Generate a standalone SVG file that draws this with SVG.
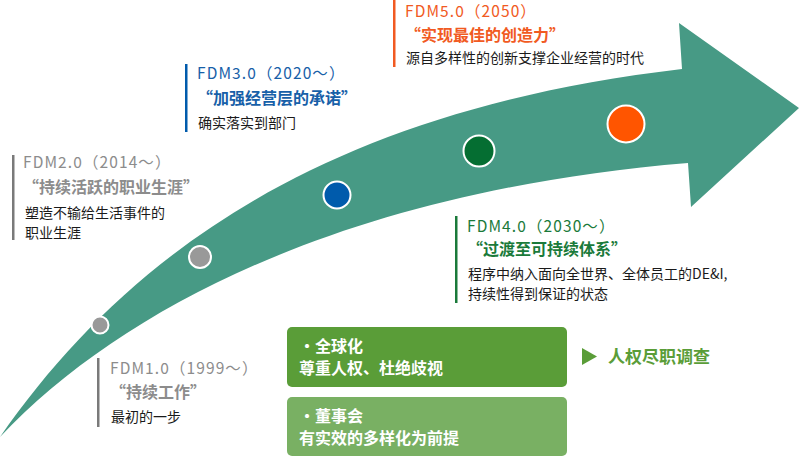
<svg xmlns="http://www.w3.org/2000/svg" width="800" height="457" viewBox="0 0 800 457">
<style>
text{font-family:"Noto Sans CJK SC","Noto Sans",sans-serif;}
.ttl{font-size:15.5px;letter-spacing:1.1px;}
.quo{font-size:16px;font-weight:bold;}
.dsc{font-size:14px;fill:#1a1a1a;}
.box{font-size:16px;font-weight:bold;fill:#ffffff;}
.dot{stroke:#ffffff;stroke-width:2;}
</style>
<rect width="800" height="457" fill="#ffffff"/>
<g id="arrow">
<path d="M0,437 C130,250 330,110 682,69 L679,23 L799,108 L691,207 L688,163 C360,190 130,300 0,437 Z" fill="#479A85"/>
</g>
<g id="milestones">
<circle class="dot" cx="100" cy="325" r="8.5" fill="#999999"/>
<circle class="dot" cx="200" cy="257" r="11" fill="#999999"/>
<circle class="dot" cx="337" cy="195" r="13.5" fill="#005BAC"/>
<circle class="dot" cx="479" cy="151" r="15.5" fill="#056E32"/>
<circle class="dot" cx="626" cy="124" r="18.5" fill="#FF5500"/>
</g>
<g id="fdm1">
<rect x="97" y="358" width="2.5" height="69" fill="#7A7A7A"/>
<text class="ttl" x="110" y="374" fill="#8C8C8C">FDM1.0（1999～）</text>
<text class="quo" x="110" y="398" fill="#8C8C8C">“持续工作”</text>
<text class="dsc" x="111" y="422">最初的一步</text>
</g>
<g id="fdm2">
<rect x="12" y="155" width="2.5" height="85" fill="#7A7A7A"/>
<text class="ttl" x="23" y="168" fill="#8C8C8C">FDM2.0（2014～）</text>
<text class="quo" x="23" y="193" fill="#8C8C8C">“持续活跃的职业生涯”</text>
<text class="dsc" x="25" y="218">塑造不输给生活事件的</text>
<text class="dsc" x="25" y="238">职业生涯</text>
</g>
<g id="fdm3">
<rect x="185" y="64" width="2.5" height="68" fill="#005BAC"/>
<text class="ttl" x="197" y="78.5" fill="#1760A8">FDM3.0（2020～）</text>
<text class="quo" x="197" y="104" fill="#1760A8">“加强经营层的承诺”</text>
<text class="dsc" x="198" y="128">确实落实到部门</text>
</g>
<g id="fdm4">
<rect x="455" y="216" width="2.5" height="87" fill="#1A7A3A"/>
<text class="ttl" x="467" y="231.5" fill="#1A7A3A">FDM4.0（2030～）</text>
<text class="quo" x="467" y="255" fill="#1A7A3A">“过渡至可持续体系”</text>
<text class="dsc" x="468" y="279">程序中纳入面向全世界、全体员工的DE&amp;I,</text>
<text class="dsc" x="468" y="299">持续性得到保证的状态</text>
</g>
<g id="fdm5">
<rect x="393" y="0" width="2.5" height="67" fill="#F15A22"/>
<text class="ttl" x="405" y="17" fill="#F15A22">FDM5.0（2050）</text>
<text class="quo" x="405" y="40.5" fill="#F15A22">“实现最佳的创造力”</text>
<text class="dsc" x="406" y="63">源自多样性的创新支撑企业经营的时代</text>
</g>
<g id="box-global">
<rect x="287" y="327" width="280" height="60" rx="5" fill="#5A9D38"/>
<text class="box" x="299" y="352">・全球化</text>
<text class="box" x="299" y="374">尊重人权、杜绝歧视</text>
</g>
<g id="box-board">
<rect x="287" y="397" width="280" height="59" rx="5" fill="#79B063"/>
<text class="box" x="299" y="422">・董事会</text>
<text class="box" x="299" y="444">有实效的多样化为前提</text>
</g>
<g id="connectors">
<polygon points="582,348 597,356.5 582,365" fill="#5A9D38"/>
</g>
<g id="hr-dd">
<text x="608" y="363" font-size="17" font-weight="bold" fill="#5A9D38">人权尽职调查</text>
</g>
</svg>
